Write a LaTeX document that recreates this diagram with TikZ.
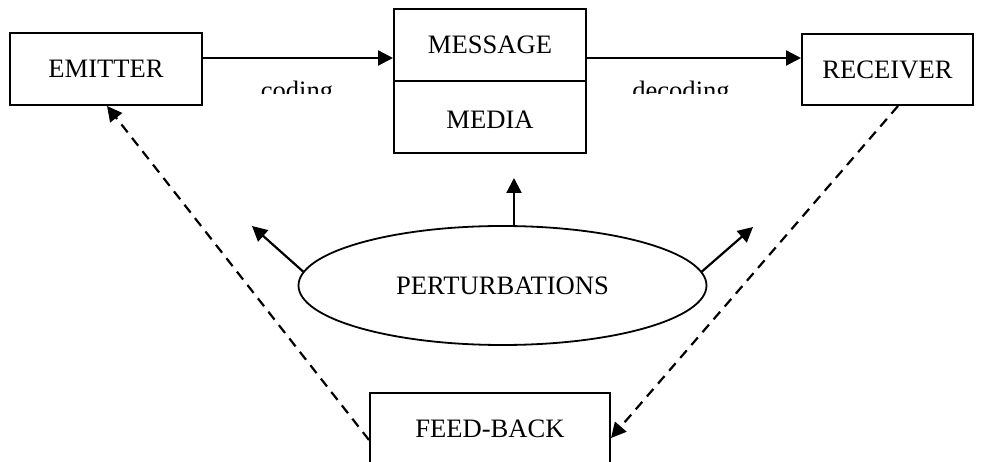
\documentclass[tikz,border=0pt]{standalone}
\usepackage{fontspec}
\setmainfont{Liberation Serif}
\usetikzlibrary{arrows.meta,shapes.geometric}

\tikzset{
  box/.style={draw, line width=2pt, rectangle, inner sep=0pt,
              minimum width=192pt, minimum height=72pt,
              font=\fontsize{26.6}{30}\selectfont},
  lbl/.style={inner sep=0pt, anchor=base, font=\fontsize{26.6}{30}\selectfont},
  arr/.style={line width=2.2pt, -{Triangle[length=15pt,width=15pt]}},
  dasharr/.style={arr, dash pattern=on 10pt off 7pt},
}

\begin{document}
\begin{tikzpicture}[x=1pt,y=-1pt]
  \clip (0,0) rectangle (983,462);
  \fill[white] (0,0) rectangle (983,462);

  % boxes
  \node[box] (emitter) at (106,69) {EMITTER};
  \node[box] (msg) at (490,45) {MESSAGE};
  \node[box, text height=24pt, text depth=0pt] (media) at (490,117) {MEDIA};
  \node[box, minimum width=171pt, minimum height=71pt] (receiver) at (887.5,69.5) {RECEIVER};
  \node[box, minimum width=240pt] (fb) at (490,429) {FEED-BACK};
  \node[draw, line width=1.8pt, ellipse, inner sep=0pt,
        minimum width=408pt, minimum height=119pt,
        font=\fontsize{26.6}{30}\selectfont] (pert) at (502.5,285.5) {PERTURBATIONS};

  % coding / decoding labels, cut off along their lower part
  \begin{scope}
    \clip (220,60) rectangle (790,94);
    \node[lbl] (coding) at (297,100) {coding};
    \node[lbl] (decoding) at (681,100) {decoding};
  \end{scope}

  % main flow
  \draw[arr] ([yshift=11pt]emitter.east) -- ([yshift=-13pt]msg.west);
  \draw[arr] ([yshift=-13pt]msg.east) -- ([yshift=11.5pt]receiver.west);

  % perturbation arrows
  \coordinate (pup) at (514,178);
  \coordinate (pleft) at (252,226);
  \coordinate (pright) at (753,227);
  \draw[arr] (pert.north -| pup) -- (pup);
  \draw[arr] (pert.176) -- (pleft);
  \draw[arr] (pert.4) -- (pright);

  % feedback loop
  \draw[dasharr] ([yshift=-11pt]fb.west) -- ([xshift=1pt]emitter.south);
  \draw[dasharr] ([xshift=10.5pt]receiver.south) -- ([yshift=-9pt]fb.east);
\end{tikzpicture}
\end{document}
